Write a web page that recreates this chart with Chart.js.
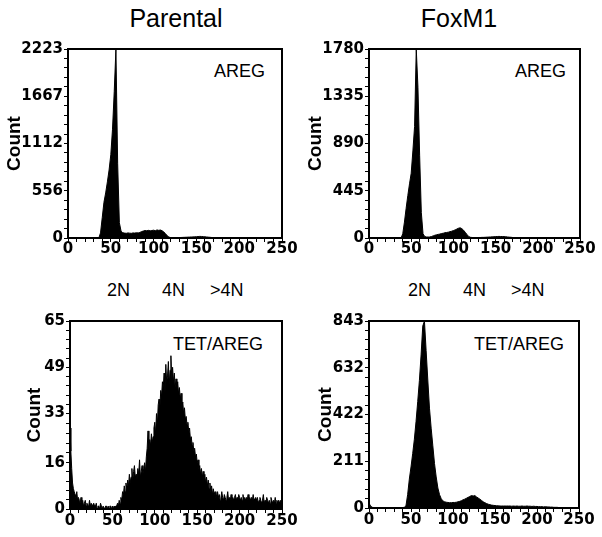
<!DOCTYPE html>
<html><head><meta charset="utf-8">
<script src="https://cdn.jsdelivr.net/npm/chart.js@4/dist/chart.umd.min.js"></script>
<style>
html,body{margin:0;padding:0;background:#fff;}
body{width:602px;height:537px;position:relative;overflow:hidden;font-family:'Liberation Sans',Arial,Helvetica,sans-serif;}
canvas{position:absolute;}
.t{position:absolute;white-space:nowrap;color:#000;}
.ttl{font-size:25px;line-height:25px;width:200px;text-align:center;top:6px;}
.lab{font-size:18px;line-height:18px;text-align:right;}
.pl{font-size:18px;line-height:18px;top:281px;}
</style></head><body>
<div class="t ttl" style="left:76px">Parental</div>
<div class="t ttl" style="left:359px">FoxM1</div>
<div class="t lab" style="right:337px;top:62px">AREG</div>
<div class="t lab" style="right:36px;top:62px">AREG</div>
<div class="t lab" style="right:339px;top:335px">TET/AREG</div>
<div class="t lab" style="right:38px;top:335px">TET/AREG</div>
<div class="t pl" style="left:107px">2N</div>
<div class="t pl" style="left:162px">4N</div>
<div class="t pl" style="left:210px">&gt;4N</div>
<div class="t pl" style="left:408px">2N</div>
<div class="t pl" style="left:463px">4N</div>
<div class="t pl" style="left:511px">&gt;4N</div>
<canvas id="c0" width="301" height="240" style="left:0;top:30px"></canvas>
<canvas id="c1" width="301" height="240" style="left:301px;top:30px"></canvas>
<canvas id="c2" width="301" height="237" style="left:0;top:300px"></canvas>
<canvas id="c3" width="301" height="237" style="left:301px;top:300px"></canvas>
<script>
// x axis: DNA content channel (0..250); histograms start at channel 0
const aregBinWidth = 2;          // AREG panels and FoxM1 TET/AREG: bins of 2 channels
const parentalTetBinWidth = 1;   // Parental TET/AREG: bins of 1 channel
const xTickLabels = [0, 50, 100, 150, 200, 250];

// y tick labels per panel
const parentalAregYTicks = [0, 556, 1112, 1667, 2223];
const foxm1AregYTicks = [0, 445, 890, 1335, 1780];
const parentalTetYTicks = [0, 16, 33, 49, 65];
const foxm1TetYTicks = [0, 211, 422, 632, 843];

// Parental, AREG (channels 0,2,...,250)
const parentalAregCounts = [
  0,0,0,0,0,0,0,0,0,0, 0,0,0,0,0,0,0,0,0,
  60,240,420,530,660,800,980,1280,1720,2223,
  880,180,80,62,58,55,60,57,55,60,
  58,62,60,66,75,82,88,85,90,84,
  88,92,86,95,90,94,85,70,50,25,
  10,5,4,3,3,4,5,6,7,8,
  9,10,11,12,13,14,15,17,19,18,
  16,14,12,10,8,6,5,4,3,3,
  2,3,2,2,3,2,1,2,2,1,
  2,1,1,2,1,1,0,1,1,0,
  1,0,1,0,0,1,0,0,1,0,
  0,0,1,0,0,0,0
];
// FoxM1, AREG (channels 0,2,...,250)
const foxm1AregCounts = [
  0,0,0,0,0,0,0,0,0,0, 0,0,0,0,0,0,0,0,0,0,
  40,150,280,400,510,610,820,1050,1780,1420,
  780,240,40,14,10,9,10,14,20,26,
  30,34,37,42,45,50,52,55,60,64,
  70,76,84,92,96,88,74,54,34,15,
  7,5,4,4,4,5,5,6,6,7,
  8,9,10,11,12,13,14,15,14,14,
  13,12,10,8,7,5,4,4,3,3,
  3,2,3,2,2,2,1,2,1,2,
  1,1,2,1,1,1,0,1,1,0,
  1,0,0,1,0,0,1,0,0,0,
  0,0,0,0,0,0
];
// Parental, TET/AREG (channels 0,1,...,250)
const parentalTetCounts = [
  28,20,14,9,7,6,5,4,6,3,
  4,3,2,4,2,3,1,2,3,1,
  2,1,1,3,1,2,1,1,2,1,
  1,2,0,1,1,0,2,1,0,1,
  1,0,1,1,0,1,0,1,1,0,
  1,0,1,0,1,1,2,1,3,2,
  4,3,6,5,8,6,9,7,10,8,
  12,9,11,14,10,13,15,11,12,10,
  14,12,17,11,13,15,12,14,16,13,
  18,21,27,20,24,22,26,23,25,28,
  30,26,33,29,36,38,35,41,39,44,
  42,47,40,50,44,46,51,43,48,53,
  45,49,44,47,42,45,41,44,40,42,
  38,40,35,37,33,35,31,32,29,30,
  27,28,24,25,22,23,20,21,18,19,
  16,17,14,15,12,14,11,13,10,12,
  9,11,8,10,7,9,6,8,5,7,
  5,6,4,5,6,4,5,3,4,6,
  4,3,5,4,3,4,6,3,4,3,
  5,3,4,3,4,5,3,4,3,5,
  4,3,4,3,5,3,4,3,4,3,
  5,3,4,3,4,3,5,3,3,4,
  3,4,2,3,4,3,2,3,5,2,
  3,2,4,3,2,3,2,4,3,2,
  3,2,4,2,3,2,3,2,3,2,
  2
];
// FoxM1, TET/AREG (channels 0,2,...,250)
const foxm1TetCounts = [
  22,8,3,2,1,2,1,1,2,1,
  1,2,1,1,1,2,1,1,1,2,
  2,3,10,60,130,185,245,310,390,480,
  575,690,820,843,710,577,450,360,280,200,
  140,90,60,42,32,28,26,25,24,24,
  25,25,26,28,30,33,37,40,44,48,
  52,56,54,56,50,45,40,34,28,24,
  20,17,15,13,12,11,10,10,9,9,
  9,9,9,9,9,8,9,8,9,8,
  8,9,8,8,9,8,8,7,8,7,
  7,6,6,6,5,6,5,5,4,4,
  3,3,3,2,2,2,2,2,1,1,
  1,1,1,1,1,1
];

const FONT = "'Liberation Sans', Arial, Helvetica, sans-serif";
const TICKFONT = "'DejaVu Sans', 'Liberation Sans', Arial, sans-serif";

function withMinor(labels, sub) {
  const out = [];
  for (let i = 0; i < labels.length - 1; i++) {
    for (let k = 0; k < sub; k++) out.push(labels[i] + (labels[i + 1] - labels[i]) * k / sub);
  }
  out.push(labels[labels.length - 1]);
  return out;
}

const boxPlugin = {
  id: 'box',
  afterDraw(chart) {
    const {ctx, chartArea: a} = chart;
    ctx.save();
    ctx.strokeStyle = '#000';
    ctx.lineWidth = 2;
    ctx.strokeRect(a.left, a.top, a.right - a.left, a.bottom - a.top);
    ctx.restore();
  }
};

function panel(id, counts, binW, yTicks, lay) {
  const pts = counts.map((c, i) => ({x: i * binW, y: c}));
  const yMax = yTicks[yTicks.length - 1];
  new Chart(document.getElementById(id), {
    type: 'line',
    data: {datasets: [{data: pts, fill: 'origin', backgroundColor: '#000', borderColor: '#000',
      borderWidth: 1, pointRadius: 0, tension: 0}]},
    options: {
      responsive: false, animation: false, devicePixelRatio: 1,
      layout: {padding: {top: lay.pt, right: lay.pr, left: 0, bottom: 0}},
      plugins: {legend: {display: false}, tooltip: {enabled: false}},
      scales: {
        x: {
          type: 'linear', min: 0, max: 250,
          afterBuildTicks(s) { s.ticks = withMinor(xTickLabels, 5).map(v => ({value: v})); },
          afterFit(s) { s.height = lay.xh; },
          grid: {drawOnChartArea: false, drawTicks: true, tickLength: 4, tickColor: '#000', tickWidth: 1},
          border: {display: false},
          ticks: {autoSkip: false, maxRotation: 0, minRotation: 0, padding: lay.xp, color: '#000',
            font: {family: TICKFONT, size: 15, weight: 'bold', lineHeight: 1},
            callback: v => xTickLabels.includes(v) ? String(v) : ''}
        },
        y: {
          type: 'linear', min: 0, max: yMax,
          afterBuildTicks(s) { s.ticks = withMinor(yTicks, 5).map(v => ({value: v})); },
          afterFit(s) { s.width = lay.yw; },
          grid: {drawOnChartArea: false, drawTicks: true, tickLength: 4, tickColor: '#000', tickWidth: 1},
          border: {display: false},
          title: {display: true, text: 'Count', color: '#000',
            font: {family: FONT, size: 19, weight: 'bold', lineHeight: 1},
            padding: {top: lay.tp, bottom: 0}},
          ticks: {autoSkip: false, padding: 1, color: '#000',
            font: {family: TICKFONT, size: 15, weight: 'bold', lineHeight: 1},
            callback: v => yTicks.includes(v) ? String(v) : ''}
        }
      }
    },
    plugins: [boxPlugin]
  });
}

panel('c0', parentalAregCounts, aregBinWidth, parentalAregYTicks, {pt: 19, pr: 19, xh: 32, yw: 68, tp: 5, xp: 0});
panel('c1', foxm1AregCounts, aregBinWidth, foxm1AregYTicks, {pt: 19, pr: 22, xh: 32, yw: 68, tp: 5, xp: 0});
panel('c2', parentalTetCounts, parentalTetBinWidth, parentalTetYTicks, {pt: 21, pr: 19, xh: 28, yw: 70, tp: 25.5, xp: 1});
panel('c3', foxm1TetCounts, aregBinWidth, foxm1TetYTicks, {pt: 21, pr: 23, xh: 29, yw: 68, tp: 15.5, xp: 1});
</script>
</body></html>
